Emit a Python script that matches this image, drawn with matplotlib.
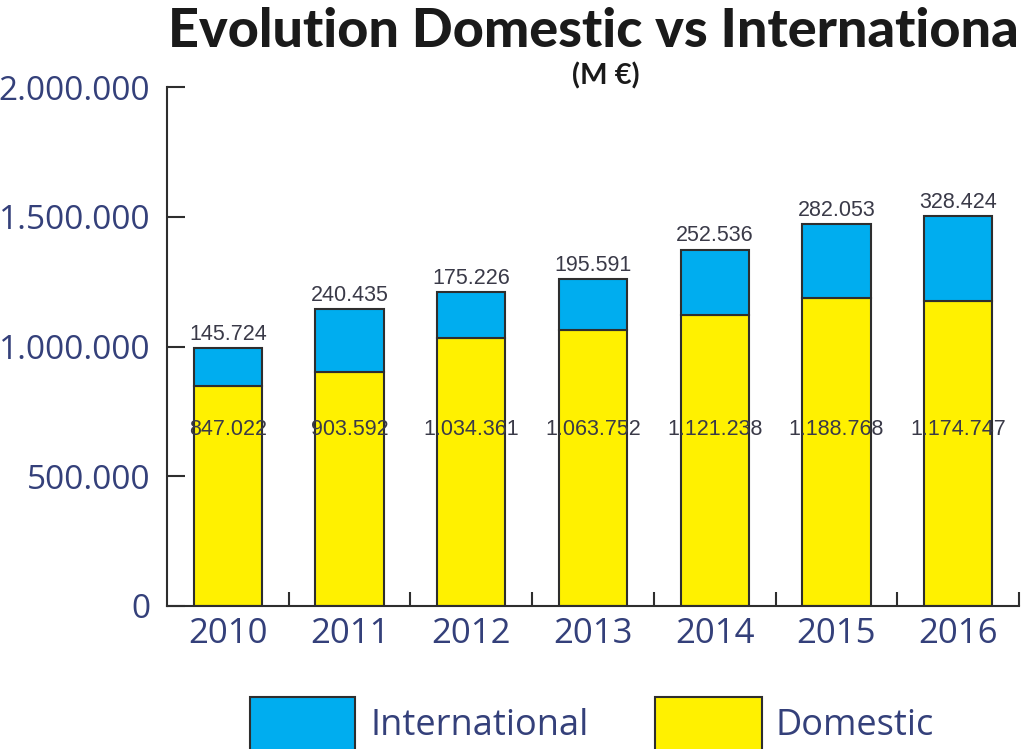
import matplotlib
matplotlib.use("Agg")
import matplotlib.pyplot as plt
from matplotlib.patches import Rectangle
from matplotlib.ticker import FuncFormatter

years = ["2010", "2011", "2012", "2013", "2014", "2015", "2016"]
domestic = [847022, 903592, 1034361, 1063752, 1121238, 1188768, 1174747]
international = [145724, 240435, 175226, 195591, 252536, 282053, 328424]
y_ticks = [0, 500000, 1000000, 1500000, 2000000]

BLUE = "#00ADEF"
YELLOW = "#FFF100"
EDGE = "#2e2e2e"
NAVY = "#34407a"
W, H = 1022, 749

fig = plt.figure(figsize=(W / 100, H / 100), dpi=100)
ax = fig.add_axes([167 / W, 1 - 606 / H, (1019 - 167) / W, (606 - 87) / H])

x = list(range(len(years)))
ax.bar(x, domestic, width=0.56, color=YELLOW, edgecolor=EDGE, linewidth=1.5, zorder=2)
ax.bar(x, international, width=0.56, bottom=domestic, color=BLUE, edgecolor=EDGE, linewidth=1.5, zorder=2)

def fmt(v):
    return f"{v:,}".replace(",", ".")

lab_font = ["Liberation Sans", "DejaVu Sans"]
for i, (d, t) in enumerate(zip(domestic, international)):
    ax.text(i, d + t + 12000, fmt(t), ha="center", va="bottom", fontsize=15.5,
            color="#3a3a48", family=lab_font, zorder=3)
    ax.text(i, 680000, fmt(d), ha="center", va="center", fontsize=15.5,
            color="#3a3a48", family=lab_font, zorder=3)

ax.set_xlim(-0.5, 6.5)
ax.set_ylim(0, 2000000)
ax.set_yticks(y_ticks)
ax.yaxis.set_major_formatter(FuncFormatter(lambda v, p: fmt(int(v))))
ax.set_xticks(x)
ax.set_xticklabels(years)
ax.set_xticks([i + 0.5 for i in x], minor=True)
ax.tick_params(axis="x", which="major", length=0, pad=8, labelsize=25, labelcolor=NAVY)
ax.tick_params(axis="x", which="minor", direction="in", length=10, width=1.5, color=EDGE)
ax.tick_params(axis="y", direction="in", length=13, width=1.5, color=EDGE, pad=12,
               labelsize=24, labelcolor=NAVY)
for lbl in ax.get_xticklabels() + ax.get_yticklabels():
    lbl.set_family(["Open Sans", "DejaVu Sans"])
for s in ["top", "right"]:
    ax.spines[s].set_visible(False)
for s in ["left", "bottom"]:
    ax.spines[s].set_color(EDGE)
    ax.spines[s].set_linewidth(1.5)

fig.text(168 / W, 1 - 47 / H, "Evolution Domestic vs Internationa", ha="left", va="baseline",
         fontsize=38.8, fontweight="black", color="#1a1a1a", family=["Lato", "DejaVu Sans"])
fig.text(606 / W, 1 - 76 / H, "(M €)", ha="center", va="center", fontsize=21,
         fontweight="bold", color="#1a1a1a", family=["Lato", "DejaVu Sans"])

fig.patches.append(Rectangle((250 / W, 1 - 760 / H), 105 / W, 63 / H, transform=fig.transFigure,
                             facecolor=BLUE, edgecolor=EDGE, linewidth=1.5))
fig.patches.append(Rectangle((655 / W, 1 - 760 / H), 107 / W, 63 / H, transform=fig.transFigure,
                             facecolor=YELLOW, edgecolor=EDGE, linewidth=1.5))
fig.text(370 / W, 1 - 726 / H, "International", ha="left", va="center", fontsize=26,
         color=NAVY, family=["Open Sans", "DejaVu Sans"])
fig.text(775 / W, 1 - 726 / H, "Domestic", ha="left", va="center", fontsize=26,
         color=NAVY, family=["Open Sans", "DejaVu Sans"])

fig.savefig("out.png", dpi=100)
